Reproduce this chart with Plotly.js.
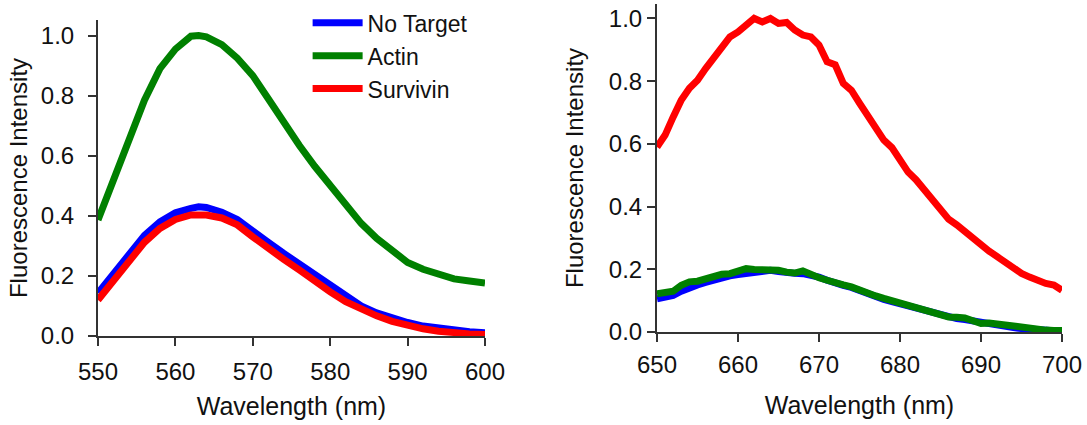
<!DOCTYPE html>
<html>
<head>
<meta charset="utf-8">
<script src="https://cdn.plot.ly/plotly-3.0.1.min.js"></script>
<style>
html,body{margin:0;padding:0;background:#fff;}
#chart{width:1087px;height:425px;}
</style>
</head>
<body>
<div id="chart"></div>
<script>
// Left panel (550-600 nm)
const wlLeft = [550,552,554,556,558,560,562,563,564,566,568,570,572,574,576,578,580,582,584,586,588,590,592,594,596,598,600];
const noTargetLeft = [0.143,0.21,0.275,0.335,0.38,0.41,0.425,0.43,0.428,0.412,0.388,0.353,0.312,0.275,0.24,0.205,0.165,0.13,0.1,0.077,0.058,0.045,0.033,0.025,0.019,0.014,0.011];
const actinLeft    = [0.386,0.52,0.65,0.785,0.89,0.955,0.998,1.0,0.996,0.97,0.925,0.867,0.79,0.71,0.635,0.565,0.5,0.435,0.375,0.325,0.282,0.245,0.222,0.203,0.19,0.183,0.176];
const survivinLeft = [0.12,0.186,0.25,0.312,0.358,0.388,0.403,0.405,0.403,0.393,0.37,0.33,0.29,0.255,0.22,0.182,0.147,0.114,0.09,0.067,0.049,0.035,0.024,0.016,0.01,0.007,0.005];

// Right panel (650-700 nm)
const wlRight = [650,651,652,653,654,655,656,657,658,659,660,661,662,663,664,665,666,667,668,669,670,671,672,673,674,675,676,677,678,679,680,681,682,683,684,685,686,687,688,689,690,691,692,693,694,695,696,697,698,699,700];
const survivinRight = [0.59,0.628,0.686,0.74,0.777,0.803,0.84,0.872,0.909,0.941,0.957,0.978,1.0,0.989,1.0,0.984,0.987,0.963,0.947,0.941,0.915,0.862,0.852,0.793,0.771,0.73,0.693,0.652,0.612,0.588,0.545,0.51,0.485,0.455,0.425,0.39,0.36,0.342,0.32,0.298,0.275,0.258,0.24,0.22,0.2,0.187,0.175,0.163,0.155,0.15,0.133];
const actinRight = [0.122,0.127,0.13,0.149,0.16,0.162,0.17,0.181,0.184,0.186,0.194,0.202,0.199,0.199,0.199,0.197,0.191,0.188,0.195,0.181,0.173,0.165,0.156,0.15,0.144,0.133,0.122,0.115,0.107,0.1,0.093,0.085,0.078,0.071,0.064,0.056,0.048,0.047,0.045,0.036,0.027,0.029,0.025,0.021,0.019,0.016,0.012,0.007,0.006,0.005,0.005];
const noTargetRight = [0.106,0.111,0.117,0.13,0.142,0.15,0.158,0.166,0.174,0.179,0.183,0.187,0.19,0.194,0.197,0.193,0.188,0.187,0.186,0.183,0.175,0.165,0.155,0.149,0.142,0.131,0.12,0.112,0.104,0.097,0.09,0.082,0.074,0.067,0.06,0.053,0.047,0.043,0.04,0.035,0.03,0.026,0.022,0.018,0.014,0.011,0.008,0.006,0.005,0.004,0.004];

const seriesNames = ['No Target','Actin','Survivin'];
const seriesColors = ['#0000ff','#008000','#ff0000'];
const yTicks = [0,0.2,0.4,0.6,0.8,1.0];
const yTickText = ['0.0','0.2','0.4','0.6','0.8','1.0'];
const xTicksLeft = [550,560,570,580,590,600];
const xTicksRight = [650,660,670,680,690,700];

const FONT = 'Liberation Sans, Arial, sans-serif';
const LW = 7;

const leftY = [noTargetLeft, actinLeft, survivinLeft];
const rightY = [noTargetRight, actinRight, survivinRight];

const traces = [];
for (let i = 0; i < 3; i++) {
  traces.push({x: wlLeft, y: leftY[i], type:'scatter', mode:'lines', name: seriesNames[i],
    line:{color: seriesColors[i], width: LW}, xaxis:'x', yaxis:'y', showlegend:true});
}
for (let i = 0; i < 3; i++) {
  traces.push({x: wlRight, y: rightY[i], type:'scatter', mode:'lines', name: seriesNames[i],
    line:{color: seriesColors[i], width: LW}, xaxis:'x2', yaxis:'y2', showlegend:false});
}

const axisCommon = {
  showgrid:false, zeroline:false, showline:true, linecolor:'#333', linewidth:2,
  ticks:'outside', ticklen:8, tickwidth:2, tickcolor:'#333',
  tickfont:{family:FONT, size:24, color:'#111'}, mirror:false
};

const layout = {
  width:1087, height:425,
  margin:{l:0,r:0,t:0,b:0},
  paper_bgcolor:'#fff', plot_bgcolor:'#fff',
  font:{family:FONT, color:'#111'},
  showlegend:true,
  legend:{x:0.283, y:0.997, xanchor:'left', yanchor:'top', bgcolor:'rgba(0,0,0,0)',
    font:{family:FONT, size:23, color:'#111'}, tracegroupgap:0, itemwidth:50},
  xaxis: Object.assign({}, axisCommon, {domain:[98/1087, 485/1087], range:[550,600], anchor:'y',
    tickvals:xTicksLeft, ticktext:xTicksLeft.map(String), ticklabelstandoff:5,
    title:{text:'Wavelength (nm)', font:{family:FONT, size:25, color:'#111'}, standoff:14}}),
  yaxis: Object.assign({}, axisCommon, {domain:[89/425, 405/425], range:[0,1.052], anchor:'x',
    tickvals:yTicks, ticktext:yTickText, ticklabelstandoff:9,
    title:{text:'Fluorescence Intensity', font:{family:FONT, size:24, color:'#111'}, standoff:6}}),
  xaxis2: Object.assign({}, axisCommon, {domain:[657/1087, 1062/1087], range:[650,700], anchor:'y2',
    tickvals:xTicksRight, ticktext:xTicksRight.map(String), ticklabelstandoff:2,
    title:{text:'Wavelength (nm)', font:{family:FONT, size:25, color:'#111'}, standoff:20}}),
  yaxis2: Object.assign({}, axisCommon, {domain:[93/425, 421/425], range:[0,1.046], anchor:'x2',
    tickvals:yTicks, ticktext:yTickText,
    title:{text:'Fluorescence Intensity', font:{family:FONT, size:24, color:'#111'}, standoff:18}})
};

Plotly.newPlot('chart', traces, layout, {staticPlot:true, displayModeBar:false});
</script>
</body>
</html>
